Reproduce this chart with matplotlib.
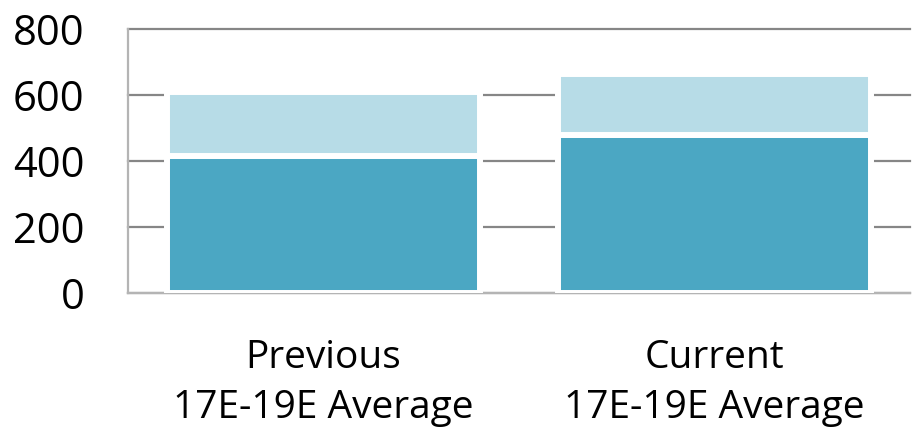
import matplotlib
matplotlib.use("Agg")
import matplotlib.pyplot as plt

categories = ["Previous\n17E-19E Average", "Current\n17E-19E Average"]
base_values = [415, 478]
top_values = [195, 185]
y_ticks = [0, 200, 400, 600, 800]

dark = "#4BA7C3"
light = "#B7DCE7"

plt.rcParams['font.family'] = ['Open Sans', 'DejaVu Sans']

fig = plt.figure(figsize=(9.14, 4.4), dpi=100)
ax = fig.add_axes([0.1397, 0.3334, 0.8556, 0.6007])

x = list(range(len(categories)))
ax.bar(x, base_values, width=0.80, color=dark, edgecolor="white", linewidth=4.3, zorder=3)
ax.bar(x, top_values, bottom=base_values, width=0.80, color=light, edgecolor="white", linewidth=4.3, zorder=3)

ax.set_xlim(-0.5, 1.5)
ax.set_ylim(0, 800)
ax.set_yticks(y_ticks)
ax.set_yticklabels([str(v) for v in y_ticks], fontsize=30)
ax.set_xticks(x)
ax.set_xticklabels(categories, fontsize=28, linespacing=1.40)
ax.tick_params(axis='both', length=0)
ax.tick_params(axis='y', pad=31)
ax.tick_params(axis='x', pad=33)

ax.yaxis.grid(True, color="#868686", linewidth=1.6, zorder=0)
ax.set_axisbelow(True)
ax.spines["right"].set_visible(False)
ax.spines["top"].set_visible(False)
ax.spines["left"].set_color("#b4b4b4")
ax.spines["left"].set_linewidth(1.6)
ax.spines["bottom"].set_color("#b4b4b4")
ax.spines["bottom"].set_linewidth(1.6)
for gl in ax.get_ygridlines():
    gl.set_clip_on(False)

fig.savefig("out.png", dpi=100)
